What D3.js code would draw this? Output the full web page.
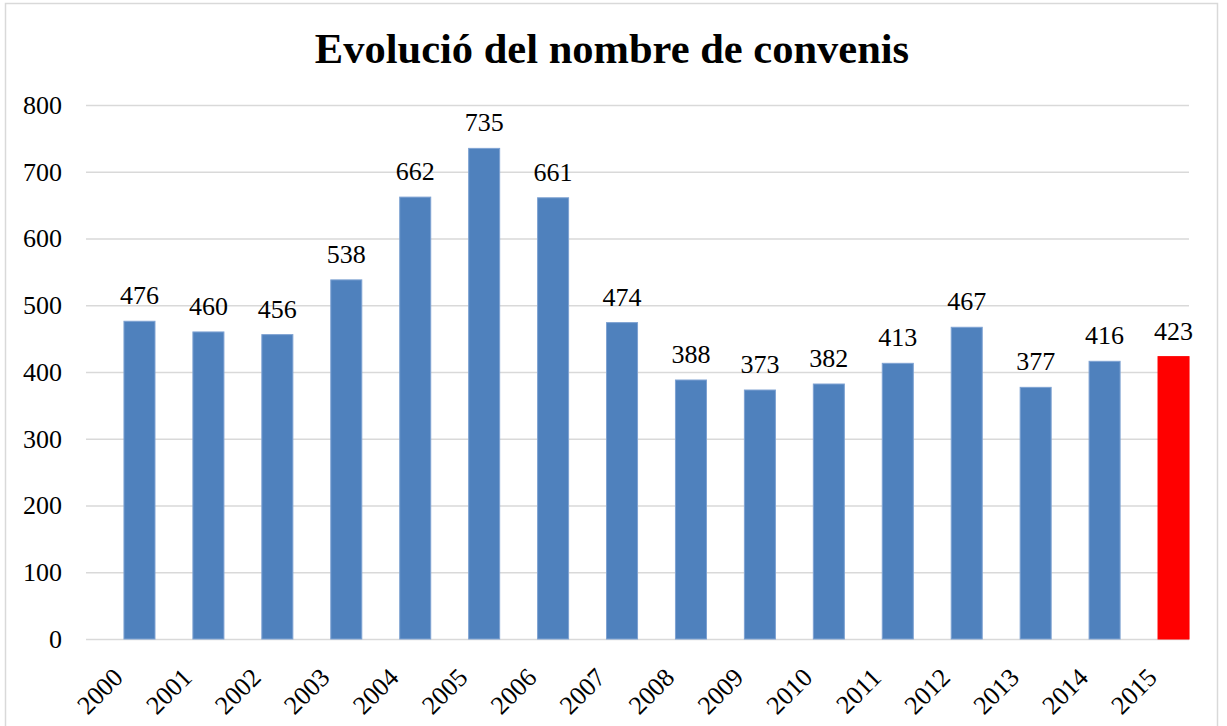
<!DOCTYPE html>
<html>
<head>
<meta charset="utf-8">
<script src="https://cdn.jsdelivr.net/npm/d3@7"></script>
<style>
  html, body { margin: 0; padding: 0; background: #fff; }
  svg text { font-family: 'Liberation Serif', 'Times New Roman', serif; fill: #000; }
</style>
</head>
<body>
<svg id="chart"></svg>
<script>
const width = 1227
const height = 726
const serif = "'Liberation Serif', 'Times New Roman', serif"

const title = 'Evolució del nombre de convenis'
const years = ['2000', '2001', '2002', '2003', '2004', '2005', '2006', '2007',
  '2008', '2009', '2010', '2011', '2012', '2013', '2014', '2015']
const convenis = [476, 460, 456, 538, 662, 735, 661, 474, 388, 373, 382, 413, 467, 377, 416, 423]
const yTicks = [0, 100, 200, 300, 400, 500, 600, 700, 800]
const highlightYear = '2015'

const plot = { left: 86, right: 1189, top: 105, bottom: 639 }

const svg = d3.select('#chart')
  .attr('width', width)
  .attr('height', height)

// outer chart border (bottom edge is off-canvas in the reference)
svg.append('rect')
  .attr('x', 5.5)
  .attr('y', 3.5)
  .attr('width', 1212)
  .attr('height', 740)
  .attr('fill', '#fff')
  .attr('stroke', '#d9d9d9')
  .attr('stroke-width', 1.5)

svg.append('text')
  .attr('x', 612)
  .attr('y', 63)
  .attr('text-anchor', 'middle')
  .attr('font-family', serif)
  .attr('font-size', 42.5)
  .attr('font-weight', 'bold')
  .text(title)

const y = d3.scaleLinear()
  .domain([0, 800])
  .range([plot.bottom, plot.top])

// bars sit a little right of the gridline span, as in the original
const x = d3.scaleBand()
  .domain(years)
  .range([105, 1208])
  .paddingInner(0.55)
  .paddingOuter(0.275)

const yAxis = d3.axisLeft(y)
  .tickValues(yTicks)
  .tickSize(-(plot.right - plot.left))
  .tickPadding(24)

svg.append('g')
  .attr('class', 'y-axis')
  .attr('transform', `translate(${plot.left},0)`)
  .call(yAxis)
  .attr('font-family', serif)
  .attr('font-size', 26)
  .call((g) => g.select('.domain').remove())
  .call((g) => g.selectAll('line').attr('stroke', '#d9d9d9').attr('stroke-width', 1.5))
  .call((g) => g.selectAll('text').attr('fill', '#000'))

const data = years.map((yr, i) => ({ year: yr, value: convenis[i] }))

svg.append('g')
  .selectAll('rect')
  .data(data)
  .join('rect')
  .attr('x', (d) => x(d.year))
  .attr('y', (d) => y(d.value))
  .attr('width', x.bandwidth())
  .attr('height', (d) => y(0) - y(d.value))
  .attr('fill', (d) => (d.year === highlightYear ? '#ff0000' : '#4f81bd'))
  .attr('stroke', (d) => (d.year === highlightYear ? '#ff0000' : '#7ea2d2'))
  .attr('stroke-width', 1)

svg.append('g')
  .attr('font-family', serif)
  .attr('font-size', 26)
  .selectAll('text')
  .data(data)
  .join('text')
  .attr('x', (d) => x(d.year) + x.bandwidth() / 2)
  .attr('y', (d) => y(d.value) - 17)
  .attr('text-anchor', 'middle')
  .text((d) => d.value)

svg.append('g')
  .attr('font-family', serif)
  .attr('font-size', 26)
  .selectAll('text')
  .data(years)
  .join('text')
  .attr('transform', (d) => `translate(${x(d) + x.bandwidth() / 2 - 15},679) rotate(-45)`)
  .attr('text-anchor', 'end')
  .text((d) => d)
</script>
</body>
</html>
